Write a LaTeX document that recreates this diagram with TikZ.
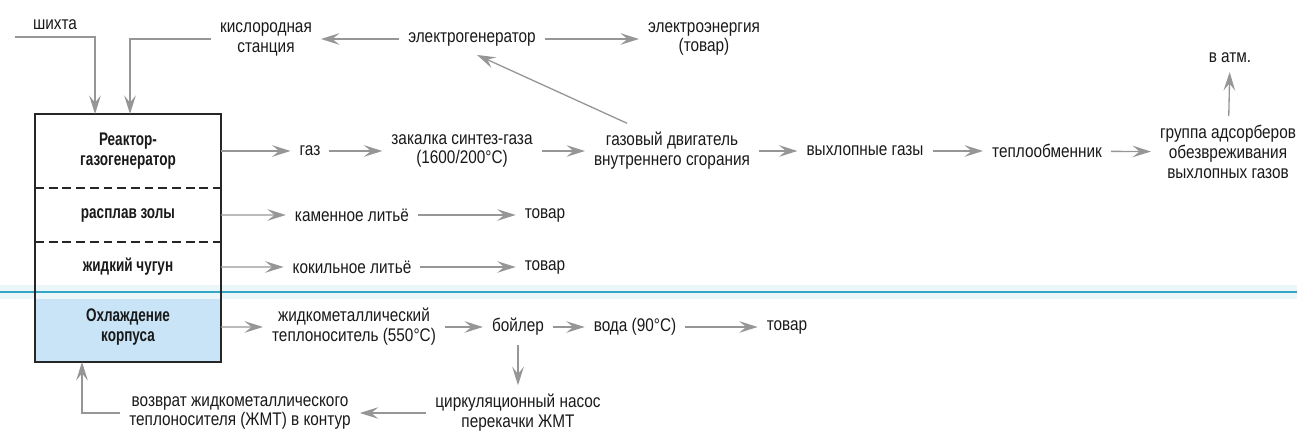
\documentclass[tikz,border=0pt]{standalone}
\usepackage{fontspec}
\setmainfont{Liberation Sans}[FakeStretch=0.84]
\newfontfamily\partfont{Liberation Sans}[FakeStretch=0.74]
\usepackage{tikz}
\usetikzlibrary{positioning, arrows.meta}
\usepackage{xcolor}
\definecolor{flowgray}{RGB}{150,150,150}
\definecolor{sepblue}{RGB}{52,166,198}
\definecolor{coolblue}{RGB}{200,228,246}

\begin{document}
\begin{tikzpicture}[x=0.02cm, y=-0.02cm, font=\fontsize{10.4}{11.3}\selectfont,
  >={Stealth[length=10.5pt, width=6.6pt, inset=4pt]},
  txt/.style={align=center, inner sep=5pt, text=black!90},
  part/.style={minimum width=3.72cm, inner sep=0pt, outer sep=0pt, align=center, text=black!90,
    font=\partfont\bfseries\fontsize{10.4}{11.6}\selectfont},
  flow/.style={->, draw=flowgray, line width=0.75pt}]
  \useasboundingbox (0,0) rectangle (1297,435);

  \node[part, minimum height=1.48cm] (reactor) at (128,151) {Реактор-\\газогенератор};
  \node[part, minimum height=1.08cm, below=0pt of reactor] (melt) {расплав золы};
  \node[part, minimum height=1.0cm, below=0pt of melt] (iron) {жидкий чугун};
  \node[part, minimum height=1.4cm, fill=coolblue, below=0pt of iron] (cool) {Охлаждение\\корпуса};

  \draw[sepblue!10, line width=8pt] ([xshift=-0.7cm]cool.north west) -- ++(1297,0);
  \draw[sepblue, line width=1.2pt] ([xshift=-0.7cm]cool.north west) -- ++(1297,0);
  \draw[line width=0.9pt, black!85] (reactor.north west) rectangle (cool.south east);
  \draw[line width=0.9pt, black!85, dash pattern=on 5pt off 2.8pt] (reactor.south west) -- (reactor.south east);
  \draw[line width=0.9pt, black!85, dash pattern=on 5pt off 2.8pt] (melt.south west) -- (melt.south east);

  \node[txt] (shihta) at (55,25) {шихта};
  \coordinate (shihtaL) at (15,37);
  \node[txt] (oxy) at (266,39) {кислородная\\станция};
  \node[txt] (gen) at (472,39) {электрогенератор};
  \node[txt] (elec) at (704,39) {электроэнергия\\(товар)};

  \node[txt] (gas) at (310,151) {газ};
  \node[txt] (quench) at (462,151) {закалка синтез-газа\\(1600/200°C)};
  \node[txt] (engine) at (672,151) {газовый двигатель\\внутреннего сгорания};
  \node[txt] (exhaust) at (865,151) {выхлопные газы};
  \node[txt] (heatex) at (1047,151) {теплообменник};
  \node[txt] (adsorb) at (1228,152) {группа адсорберов\\обезвреживания\\выхлопных газов};
  \node[txt] (atm) at (1230,58) {в атм.};

  \node[txt] (stone) at (352,215) {каменное литьё};
  \node[txt] (good1) at (545,215) {товар};
  \node[txt] (chill) at (352,267) {кокильное литьё};
  \node[txt] (good2) at (545,267) {товар};

  \node[txt] (coolant) at (354,327) {жидкометаллический\\теплоноситель (550°C)};
  \node[txt] (boiler) at (518,327) {бойлер};
  \node[txt] (water) at (635,327) {вода (90°C)};
  \node[txt] (good3) at (787,327) {товар};
  \node[txt] (pump) at (518,413) {циркуляционный насос\\перекачки ЖМТ};
  \node[txt] (ret) at (240,413) {возврат жидкометаллического\\теплоносителя (ЖМТ) в контур};

  \draw[flow] (shihtaL) -| ([xshift=1.2cm]reactor.north west);
  \draw[flow] (oxy.west) -| ([xshift=1.9cm]reactor.north west);
  \draw[flow] (gen) -- (oxy);
  \draw[flow] (gen) -- (elec);
  \draw[flow] ([xshift=-0.9cm]engine.north) -- ([xshift=0.1cm]gen.south);

  \draw[flow] (reactor) -- (gas);
  \draw[flow] (gas) -- (quench);
  \draw[flow] (quench) -- (engine);
  \draw[flow] (engine) -- (exhaust);
  \draw[flow] (exhaust) -- (heatex);
  \draw[flow] (heatex) -- (adsorb);
  \draw[flow] (adsorb) -- (atm);

  \draw[flow] (melt) -- (stone);
  \draw[flow] (stone) -- (good1);
  \draw[flow] (iron) -- (chill);
  \draw[flow] (chill) -- (good2);

  \draw[flow] (cool) -- (coolant);
  \draw[flow] (coolant) -- (boiler);
  \draw[flow] (boiler) -- (water);
  \draw[flow] (water) -- (good3);
  \draw[flow] (boiler) -- (pump);
  \draw[flow] (pump) -- (ret);
  \draw[flow] (ret.west) -| ([xshift=0.94cm]cool.south west);
\end{tikzpicture}
\end{document}
